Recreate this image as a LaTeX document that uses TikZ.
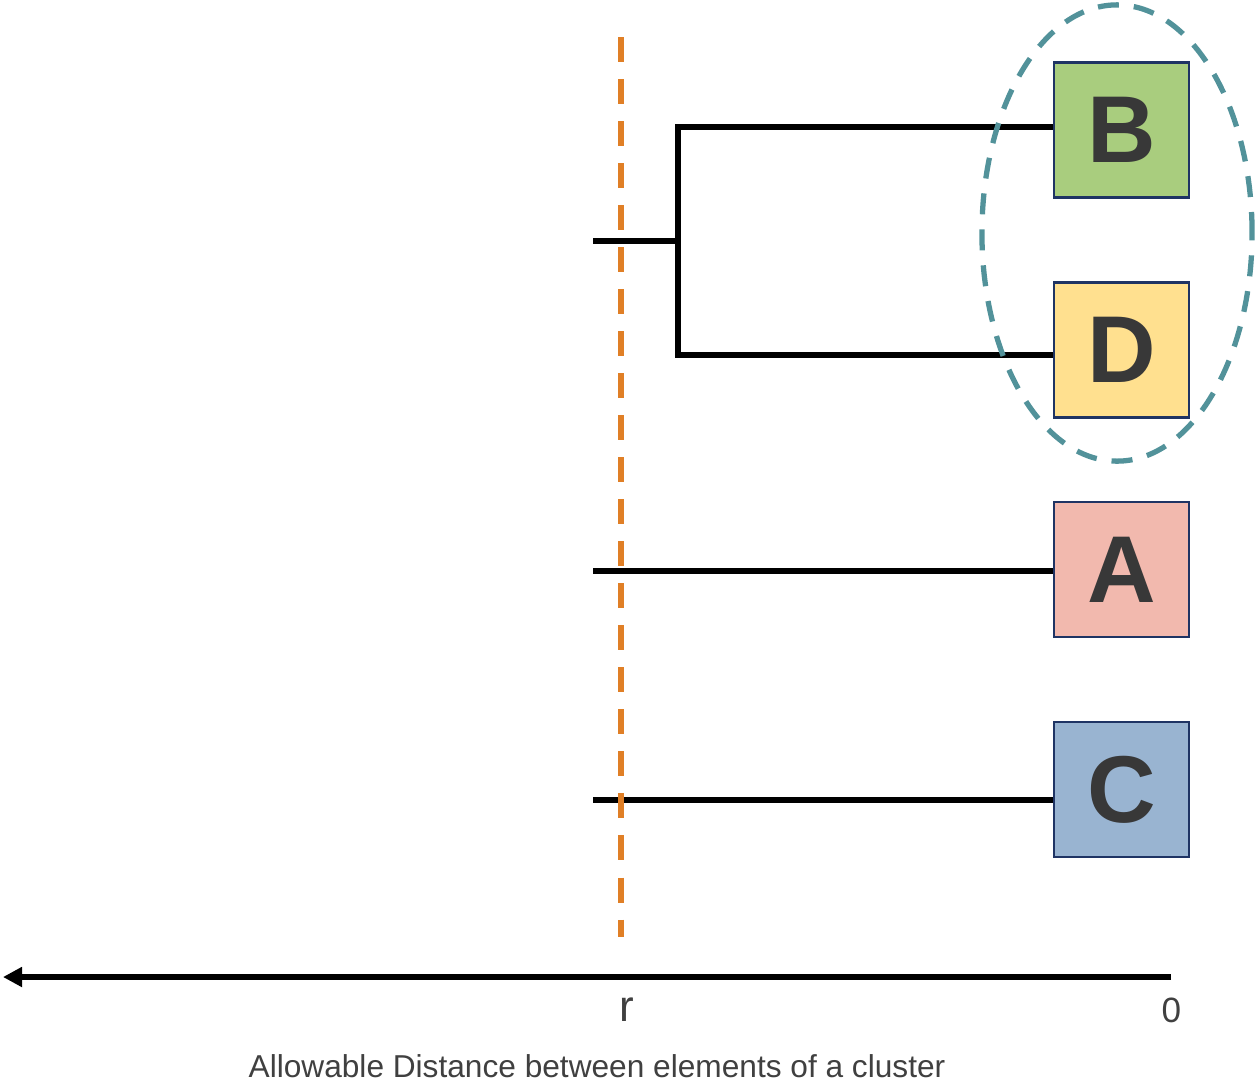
\documentclass[tikz,border=0pt]{standalone}
\usepackage{fontspec}
\setmainfont{Liberation Sans}
\usetikzlibrary{arrows.meta}

\definecolor{leafgreen}{HTML}{A9CD7E}
\definecolor{leafyellow}{HTML}{FFE08F}
\definecolor{leafpink}{HTML}{F2B9AE}
\definecolor{leafblue}{HTML}{99B4D1}
\definecolor{leafedge}{HTML}{1F3464}
\definecolor{cutorange}{HTML}{E07F26}
\definecolor{groupteal}{HTML}{52929A}
\definecolor{labelgray}{HTML}{404040}

\begin{document}
\begin{tikzpicture}[x=0.01cm,y=-0.01cm,
		leaf/.style={draw=leafedge,line width=0.6pt,minimum size=1.35cm,inner sep=0pt,
			font=\fontsize{27}{30}\selectfont\bfseries,text=black!78},
		link/.style={line width=1.6pt,line join=miter},
		axislabel/.style={text=labelgray,font=\fontsize{9}{11}\selectfont}]
		\useasboundingbox (0,0) rectangle (1255,1084);
		
		\node[leaf,fill=leafgreen] (B) at (1121.5,130) {B};
		\node[leaf,fill=leafyellow] (D) at (1121.5,350) {D};
		\node[leaf,fill=leafpink] (A) at (1121.5,569.5) {A};
		\node[leaf,fill=leafblue] (C) at (1121.5,789.5) {C};
		
		\coordinate (jB) at (678,127);
		\coordinate (jD) at (678,355);
		\coordinate (sBD) at (593,241);
		\coordinate (sA) at (593,571);
		\coordinate (sC) at (593,800);
		
		\draw [link] (jB -| B.west) -- (jB) -- (jD) -- (jD -| D.west);
		\draw [link] (sBD) -- (jB |- sBD);
		\draw [link] (sA) -- (sA -| A.west);
		\draw [link] (sC) -- (sC -| C.west);
		
		% cut-off distance r
		\coordinate (rTop) at (621,37);
		\coordinate (rBot) at (621,937);
		\draw [cutorange,line width=1.6pt,dash pattern=on 0.25cm off 0.17cm] (rTop) -- (rBot);
		
		% the cluster {B,D}
		\draw [groupteal,line width=1.5pt,dash pattern=on 0.21cm off 0.15cm] (1117,233) ellipse [x radius=1.35cm, y radius=2.28cm];
		
		% distance axis
		\coordinate (axZero) at (1171,977);
		\coordinate (axEnd) at (3,977);
		\draw [line width=1.7pt,-{Triangle[length=0.19cm,width=0.19cm]}] (axZero) -- (axEnd);
		\node[axislabel,font=\fontsize{12.5}{14}\selectfont] (rlab) at (627,1010) {r};
		\node[axislabel,font=\fontsize{10}{12}\selectfont] (zerolab) at (1171.5,1010.5) {0};
		\node[axislabel] (title) at (597,1066) {Allowable Distance between elements of a cluster};
\end{tikzpicture}
\end{document}
